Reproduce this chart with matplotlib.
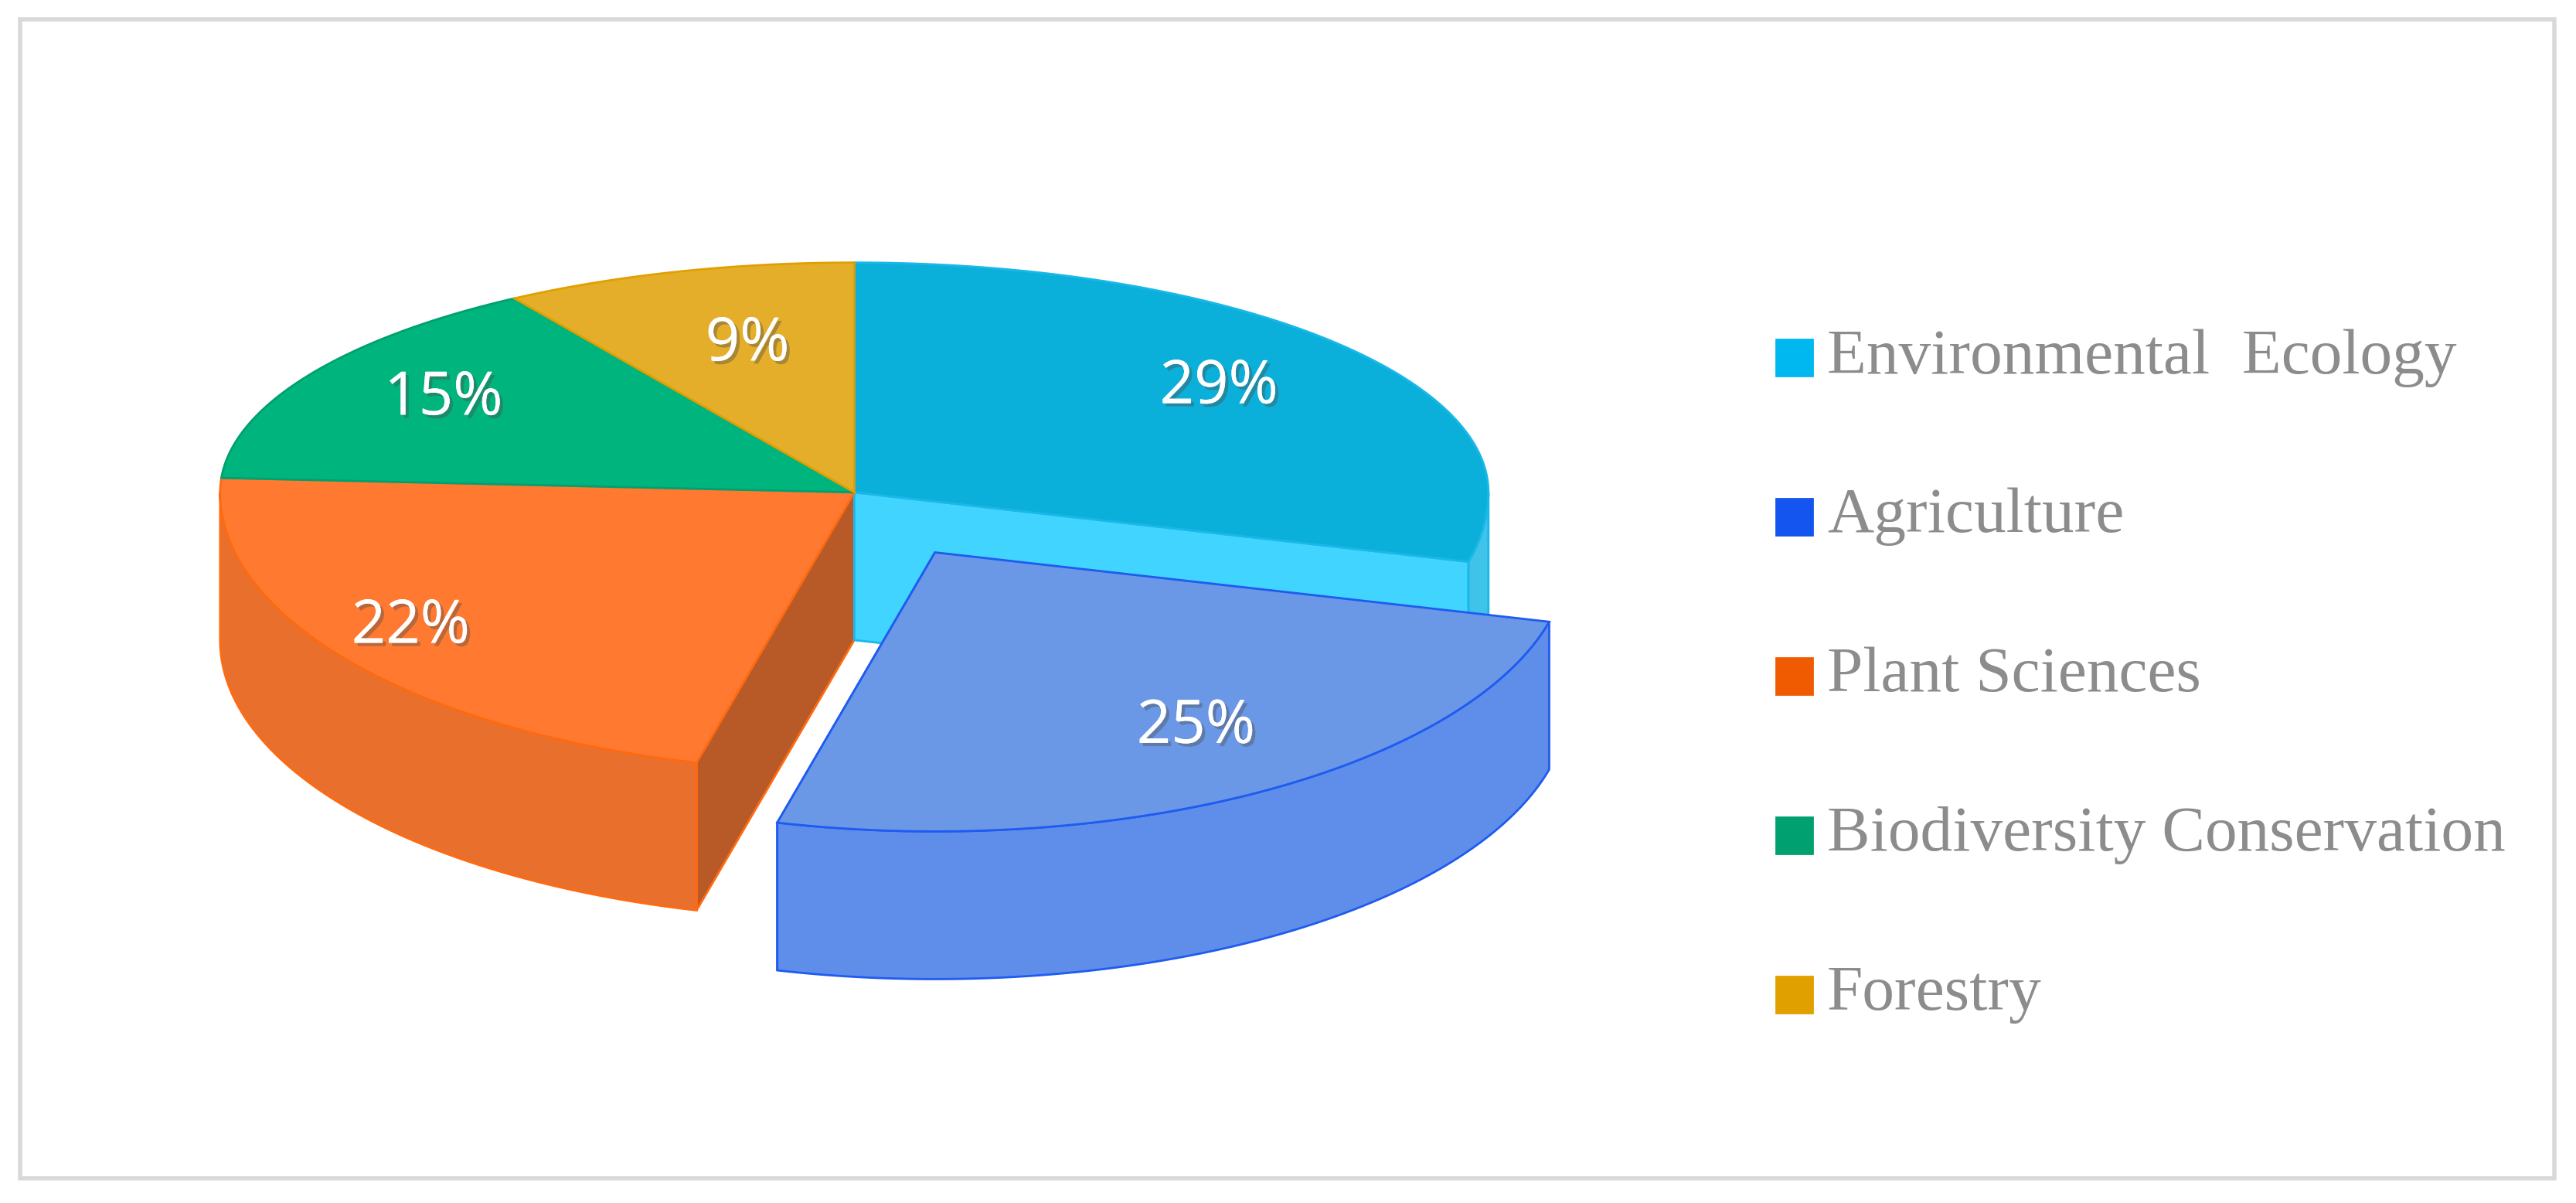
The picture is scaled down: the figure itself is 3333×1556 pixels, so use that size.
import numpy as np
import matplotlib.pyplot as plt
from matplotlib.patches import Polygon, Rectangle
import matplotlib.patheffects as pe

labels = ['Environmental  Ecology', 'Agriculture', 'Plant Sciences',
          'Biodiversity Conservation', 'Forestry']
values = [29, 25, 22, 15, 9]
explode = [0, 0.25, 0, 0, 0]
top_colors = ['#0BB0DA', '#6A98E6', '#FF7A30', '#00B47E', '#E5AE2A']
side_colors = ['#3FC3E8', '#5E8EEA', '#E8702C', '#009A6C', '#C89420']
wall_colors = ['#40D4FF', '#3F6FD8', '#B85A28', '#00885E', '#B0821A']
edge_colors = ['#1AB8E8', '#1F5BF0', '#FF6A10', '#00A070', '#E0A000']
legend_colors = ['#00B8F0', '#1455F0', '#F05A00', '#00A070', '#E0A000']

# geometry in reference pixel units (front half looks taller: perspective)
cx, cy, rx, ry_back, ry_front, depth = 520, 300, 386, 140, 170, 90

fig = plt.figure(figsize=(33.33, 15.56), dpi=100)
ax = fig.add_axes([0, 0, 1, 1])
ax.set_xlim(0, 1568)
ax.set_ylim(733, 0)
ax.axis('off')
ax.add_patch(Rectangle((12, 12), 1543, 706, fill=False, ec='#D9D9D9', lw=4))


def pt(a, ox, oy, dz=0):
    r = np.radians(a)
    s = np.sin(r)
    ry = ry_back if s > 0 else ry_front
    return (ox + rx * np.cos(r), oy - ry * s + dz)


def arc(a1, a2, ox, oy, dz=0, n=100):
    return [pt(a, ox, oy, dz) for a in np.linspace(a1, a2, n)]


angles = []
a = 90
for v in values:
    angles.append((a, a - v * 3.6))
    a -= v * 3.6


def offset(i):
    a1, a2 = angles[i]
    m = np.radians((a1 + a2) / 2)
    return cx + explode[i] * rx * np.cos(m), cy - explode[i] * ry_front * np.sin(m)


def wall(i, a):
    ox, oy = offset(i)
    p = pt(a, ox, oy)
    poly = [(ox, oy), p, (p[0], p[1] + depth), (ox, oy + depth)]
    ax.add_patch(Polygon(poly, fc=wall_colors[i], ec=edge_colors[i], lw=2))


def side(i):
    a1, a2 = angles[i]
    lo, hi = max(a2, -180), min(a1, 0)
    if lo >= hi:
        return
    ox, oy = offset(i)
    top = arc(hi, lo, ox, oy)
    bot = arc(lo, hi, ox, oy, depth)
    ax.add_patch(Polygon(top + bot, fc=side_colors[i], ec=edge_colors[i], lw=2))


def top(i):
    a1, a2 = angles[i]
    ox, oy = offset(i)
    poly = [(ox, oy)] + arc(a1, a2, ox, oy)
    ax.add_patch(Polygon(poly, fc=top_colors[i], ec=edge_colors[i], lw=2))


# walls facing the gap of the exploded slice
wall(2, angles[2][0])
wall(0, angles[0][1])
for i in [0, 2, 3, 4]:
    side(i)
for i in [0, 2, 3, 4]:
    top(i)
wall(1, angles[1][1])
side(1)
top(1)

label_pos = [(742, 236), (728, 443), (250, 382), (270, 243), (455, 210)]
for i, v in enumerate(values):
    ax.text(*label_pos[i], f'{v}%', color='white', fontsize=56, ha='center',
            va='center', family='Open Sans',
            path_effects=[pe.withSimplePatchShadow(offset=(3, -3), alpha=0.4),
                          pe.Normal()])

for i, lab in enumerate(labels):
    y = 218 + i * 97
    ax.add_patch(Rectangle((1081, y - 11), 22, 22, fc=legend_colors[i],
                           ec=legend_colors[i], lw=2))
    ax.text(1112, y, lab, color='#8C8C8C', fontsize=60, va='center',
            family='Liberation Serif')

fig.savefig('out.png', dpi=100)
